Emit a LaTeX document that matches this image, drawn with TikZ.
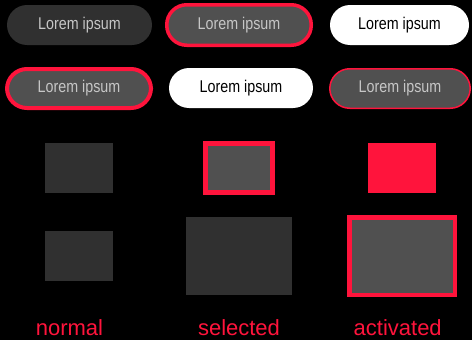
\documentclass[tikz,border=0pt]{standalone}
\usepackage{fontspec}
\setmainfont{Liberation Sans}
\newfontfamily\pillfont[FakeStretch=0.84]{Liberation Sans}
\usepackage{tikz}
\definecolor{hired}{RGB}{255,20,60}
\definecolor{darkgr}{RGB}{48,48,48}
\definecolor{midgr}{RGB}{80,80,80}
\definecolor{txtgr}{RGB}{198,198,198}

\begin{document}
\begin{tikzpicture}[x=1pt, y=-1pt,
    pill/.style = {rounded corners=20pt, minimum width=145pt, minimum height=40pt, inner sep=0pt,
                   font=\pillfont\fontsize{17}{19}\selectfont, text=txtgr},
    dark/.style = {pill, fill=darkgr},
    sel/.style = {pill, fill=midgr, draw=hired, line width=3.5pt, minimum width=144.5pt, minimum height=40.5pt},
    act/.style = {pill, fill=white, text=black},
    box/.style = {inner sep=0pt},
    lbl/.style = {text=hired, font=\fontsize{22}{24}\selectfont, anchor=base}]
    % Background
    \fill[black] (0,0) rectangle (472,340);
    \useasboundingbox (0,0) rectangle (472,340);

    % Nodes
    \node[dark] (p1) at (79.5, 25) {Lorem ipsum};
    \node[sel] (p2) at (239, 25) {Lorem ipsum};
    \node[act, minimum width=139pt] (p3) at (399.5, 25) {Lorem ipsum};

    \node[sel, line width=4pt, minimum width=144pt, minimum height=39pt] (q1) at (79, 88.5) {Lorem ipsum};
    \node[act, minimum width=144pt] (q2) at (241, 88) {Lorem ipsum};
    \node[sel, line width=1.5pt, minimum width=140.5pt, minimum height=39.5pt] (q3) at (400, 88.5) {Lorem ipsum};

    \node[box, fill=darkgr, minimum width=68pt, minimum height=50pt] (n1) at (79, 168) {};
    \node[box, fill=darkgr, minimum width=68pt, minimum height=50pt] (n2) at (79, 256) {};
    \node[box, fill=midgr, draw=hired, line width=5pt, minimum width=67pt, minimum height=49pt] (s1) at (239, 168) {};
    \node[box, fill=darkgr, minimum width=106pt, minimum height=78pt] (s2) at (239, 256) {};
    \node[box, fill=hired, minimum width=68pt, minimum height=50pt] (a1) at (402, 168) {};
    \node[box, fill=midgr, draw=hired, line width=4.5pt, minimum width=105.5pt, minimum height=77.5pt] (a2) at (402, 256) {};

    % Labels
    \node[lbl] (ln) at (69.5, 335.5) {normal};
    \node[lbl] (ls) at (239, 335.5) {selected};
    \node[lbl] (la) at (397.7, 335.5) {activated};
\end{tikzpicture}
\end{document}
